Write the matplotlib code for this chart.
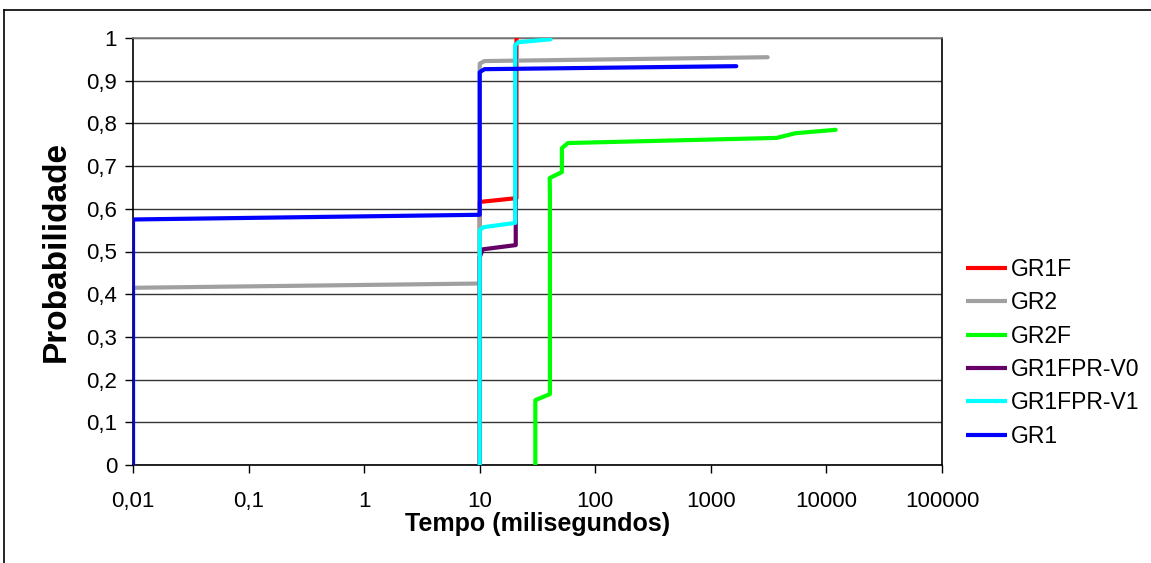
import matplotlib
matplotlib.use("Agg")
import matplotlib.pyplot as plt
from matplotlib.lines import Line2D

plt.rcParams['font.family'] = ['Liberation Sans', 'DejaVu Sans']

# ---- data (step curves: cumulative probability vs time in ms) ----
gr1f_x = [10, 10, 20.8, 20.8]
gr1f_y = [0, 0.616, 0.625, 1.0]

gr2_x = [0.01, 0.01, 10, 10, 11, 3100]
gr2_y = [0, 0.415, 0.425, 0.940, 0.946, 0.955]

gr2f_x = [30.3, 30.3, 40.5, 40.5, 40.3, 51.4, 51.4, 58, 3700, 5400, 12000]
gr2f_y = [0, 0.152, 0.166, 0.637, 0.672, 0.686, 0.742, 0.754, 0.766, 0.777, 0.785]

v0_x = [10, 10, 10.6, 20.5, 20.5]
v0_y = [0, 0.487, 0.505, 0.515, 0.985]

v1_x = [10, 10, 10.8, 20.3, 20.3, 21.5, 41]
v1_y = [0, 0.550, 0.557, 0.567, 0.983, 0.990, 0.997]

gr1_x = [0.01, 0.01, 10, 10, 11, 1660]
gr1_y = [0, 0.575, 0.586, 0.920, 0.927, 0.934]

series_names = ['GR1F', 'GR2', 'GR2F', 'GR1FPR-V0', 'GR1FPR-V1', 'GR1']
series_colors = ['#FF0000', '#A0A0A0', '#00FF00', '#660066', '#00FFFF', '#0000FF']
series_data = [(gr1f_x, gr1f_y), (gr2_x, gr2_y), (gr2f_x, gr2f_y),
               (v0_x, v0_y), (v1_x, v1_y), (gr1_x, gr1_y)]

xticks = [0.01, 0.1, 1, 10, 100, 1000, 10000, 100000]
xtick_labels = ['0,01', '0,1', '1', '10', '100', '1000', '10000', '100000']
yticks = [0, 0.1, 0.2, 0.3, 0.4, 0.5, 0.6, 0.7, 0.8, 0.9, 1.0]
ytick_labels = ['0', '0,1', '0,2', '0,3', '0,4', '0,5', '0,6', '0,7', '0,8', '0,9', '1']

W, H = 1151, 563
fig = plt.figure(figsize=(W / 100, H / 100), dpi=100)
ax = fig.add_axes([133 / W, 1 - 465 / H, (942 - 133) / W, (465 - 38) / H])

handles = []
for (xs, ys), name, col in zip(series_data, series_names, series_colors):
    ax.plot(xs, ys, color=col, lw=3.0, solid_joinstyle='round',
            solid_capstyle='round', label=name, zorder=3)
    handles.append(Line2D([], [], color=col, lw=3.0, solid_capstyle='butt'))

ax.set_xscale('log')
ax.set_xlim(0.01, 100000)
ax.set_ylim(0, 1)
ax.set_xticks(xticks)
ax.set_xticklabels(xtick_labels)
ax.minorticks_off()
ax.set_yticks(yticks)
ax.set_yticklabels(ytick_labels)
ax.tick_params(axis='both', direction='out', length=6, width=1, color='#000000',
               labelsize=16, pad=5.5)
ax.tick_params(axis='x', pad=12.5)
ax.grid(axis='y', color='#333333', lw=1)
ax.set_axisbelow(True)
for s in ['left', 'bottom', 'right']:
    ax.spines[s].set_color('black')
    ax.spines[s].set_linewidth(1.2)
ax.spines['top'].set_color('#808080')
ax.spines['top'].set_linewidth(1.2)

ax.set_xlabel('Tempo (milisegundos)', fontsize=18, fontweight='bold', labelpad=0)
ax.set_ylabel('Probabilidade', fontsize=24, fontweight='bold', labelpad=10)

leg = fig.legend(handles, series_names, loc='upper left',
                 bbox_to_anchor=(966 / W, 1 - 258 / H), frameon=False,
                 fontsize=16.5, handlelength=1.78, handletextpad=0.18,
                 labelspacing=0.45, borderpad=0, borderaxespad=0)

# outer chart border (left and top visible)
fig.add_artist(Line2D([4 / W, 4 / W], [0, 1 - 10 / H], color='black', lw=1.2,
                      transform=fig.transFigure))
fig.add_artist(Line2D([4 / W, 1], [1 - 10 / H, 1 - 10 / H], color='black', lw=1.2,
                      transform=fig.transFigure))

fig.savefig('out.png', dpi=100)
